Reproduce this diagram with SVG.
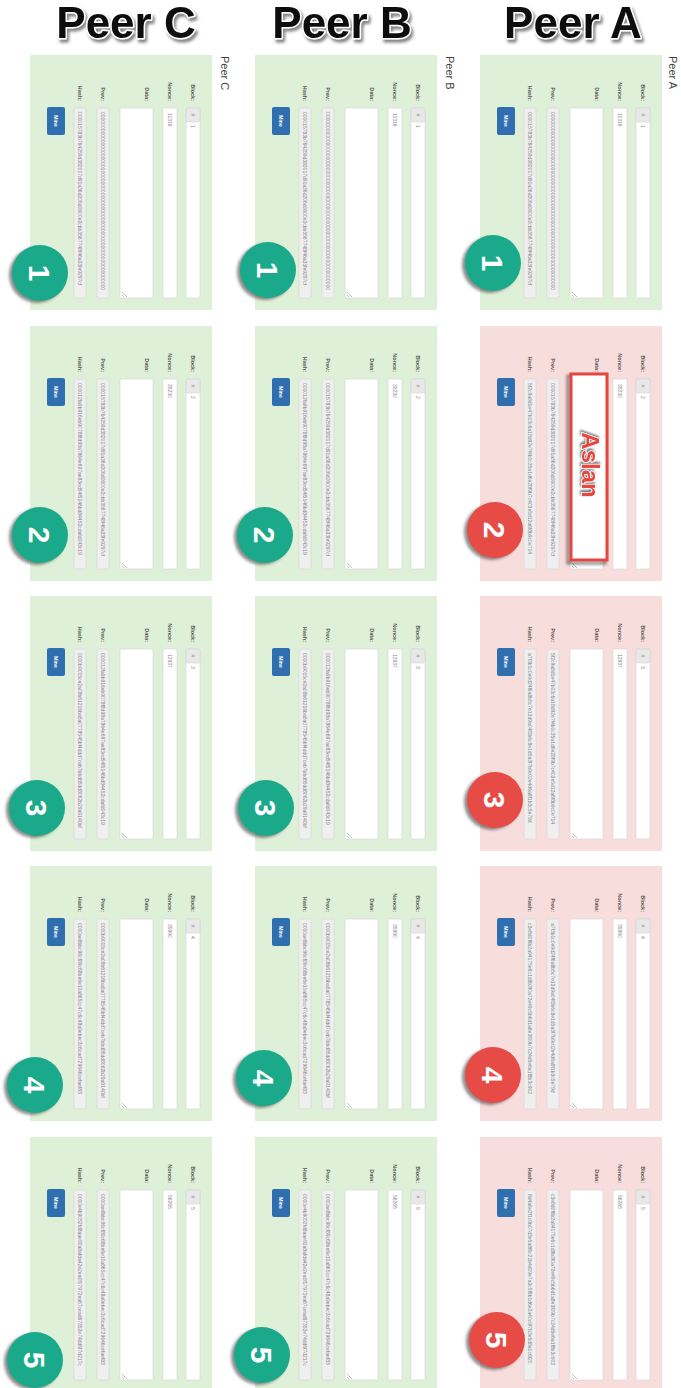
<svg xmlns="http://www.w3.org/2000/svg" xmlns:xlink="http://www.w3.org/1999/xlink" width="681" height="1388" viewBox="0 0 681 1388">
<style>
.bg{fill:#ffffff}
.ok{fill:#dff0d8}
.bad{fill:#f8dddd}
.fld{fill:#ffffff;stroke:#d4d4d4;stroke-width:0.6}
.ro{fill:#efefef;stroke:#d4d4d4;stroke-width:0.6}
.add{fill:#e8e8e8;stroke:#d4d4d4;stroke-width:0.6}
.btn{fill:#2f6fb0}
.lbl{font-family:"Liberation Sans",Arial,sans-serif;font-weight:bold;font-size:5.5px;fill:#555}
.val{font-family:"Liberation Sans",Arial,sans-serif;font-size:5px;fill:#888}
.btxt{font-family:"Liberation Sans",Arial,sans-serif;font-weight:bold;font-size:5px;fill:#ffffff}
.title{font-family:"Liberation Sans",Arial,sans-serif;font-weight:bold;font-size:44px;text-anchor:middle;fill:#111;stroke:#ffffff;stroke-width:3;paint-order:stroke;stroke-linejoin:round}
.plab{font-family:"Liberation Sans",Arial,sans-serif;font-size:11px;fill:#444}
.teal{fill:#1aaa8b}
.red{fill:#e64b45}
.csh{fill:#333;opacity:0.55}
.num{font-family:"Liberation Sans",Arial,sans-serif;font-weight:bold;font-size:30px;fill:#ffffff;text-anchor:middle}
.grip{stroke:#999;stroke-width:0.6}
</style>
<defs>
<filter id="soft" x="-20%" y="-20%" width="140%" height="140%"><feGaussianBlur stdDeviation="1.6"/></filter>
<filter id="tshadow" x="-10%" y="-30%" width="120%" height="160%"><feDropShadow dx="2" dy="3" stdDeviation="1.5" flood-color="#777" flood-opacity="0.9"/></filter>
<filter id="ashadow" x="-30%" y="-10%" width="160%" height="120%"><feDropShadow dx="-2" dy="1" stdDeviation="1" flood-color="#333" flood-opacity="0.7"/></filter>
<g id="tpl">
  <rect class="fld" x="156" y="53" width="14" height="190" rx="1.5"/>
  <rect class="add" x="156" y="53" width="14" height="14" rx="1.5"/>
  <rect class="fld" x="133" y="53" width="14" height="190" rx="1.5"/>
  <rect class="fld" x="90" y="53" width="33" height="190" rx="1.5"/>
  <line class="grip" x1="92" y1="237" x2="97" y2="242"/>
  <line class="grip" x1="92" y1="240" x2="94" y2="242"/>
  <rect class="ro" x="67" y="53" width="12" height="190" rx="1.5"/>
  <rect class="ro" x="44" y="53" width="12" height="190" rx="1.5"/>
  <rect class="btn" x="17" y="52" width="18" height="28" rx="2"/>
  <text class="btxt" transform="translate(24.2,66) rotate(90)" text-anchor="middle">Mine</text>
  <text class="lbl" transform="translate(161,46) rotate(90)" text-anchor="end">Block:</text>
  <text class="lbl" transform="translate(138,46) rotate(90)" text-anchor="end">Nonce:</text>
  <text class="lbl" transform="translate(115,46) rotate(90)" text-anchor="end">Data:</text>
  <text class="lbl" transform="translate(71,46) rotate(90)" text-anchor="end">Prev:</text>
  <text class="lbl" transform="translate(48,46) rotate(90)" text-anchor="end">Hash:</text>
  <text class="val" transform="translate(161.2,60) rotate(90)" text-anchor="middle">#</text>
</g>
</defs>
<rect class="bg" x="0" y="0" width="681" height="1388"/>

<g id="titles">
  <text class="title" x="126" y="38" filter="url(#tshadow)">Peer C</text>
  <text class="title" x="342" y="38" filter="url(#tshadow)">Peer B</text>
  <text class="title" x="573" y="38" filter="url(#tshadow)">Peer A</text>
  <text class="plab" transform="translate(221,56) rotate(90)">Peer C</text>
  <text class="plab" transform="translate(446,56) rotate(90)">Peer B</text>
  <text class="plab" transform="translate(669,56) rotate(90)">Peer A</text>
</g>

<!-- Peer C -->
<g id="peerC-block1" transform="translate(30,55)">
  <rect class="ok" width="182" height="255"/><use xlink:href="#tpl"/>
  <text class="val" transform="translate(161.2,70) rotate(90)">1</text>
  <text class="val" transform="translate(138.2,58) rotate(90)">11316</text>
  <text class="val" transform="translate(71.2,57) rotate(90)">0000000000000000000000000000000000000000000000000000000000000000</text>
  <text class="val" transform="translate(48.2,57) rotate(90)">000015783b764259d382017d91a36d206d0600e2cbb3567748f46a33fe9297cf</text>
</g>
<g id="peerC-block2" transform="translate(30,326)">
  <rect class="ok" width="182" height="255"/><use xlink:href="#tpl"/>
  <text class="val" transform="translate(161.2,70) rotate(90)">2</text>
  <text class="val" transform="translate(138.2,58) rotate(90)">35230</text>
  <text class="val" transform="translate(71.2,57) rotate(90)">000015783b764259d382017d91a36d206d0600e2cbb3567748f46a33fe9297cf</text>
  <text class="val" transform="translate(48.2,57) rotate(90)">000012fa9b916eb9078f8d98a7864e697ae83ed54f5146bd84452cdafd043c19</text>
</g>
<g id="peerC-block3" transform="translate(30,596)">
  <rect class="ok" width="182" height="255"/><use xlink:href="#tpl"/>
  <text class="val" transform="translate(161.2,70) rotate(90)">3</text>
  <text class="val" transform="translate(138.2,58) rotate(90)">12937</text>
  <text class="val" transform="translate(71.2,57) rotate(90)">000012fa9b916eb9078f8d98a7864e697ae83ed54f5146bd84452cdafd043c19</text>
  <text class="val" transform="translate(48.2,57) rotate(90)">0000b9015ce2a08b61216ba5a0778545bf4ddd7ceb7bbd85dd8062b29a9140bf</text>
</g>
<g id="peerC-block4" transform="translate(30,866)">
  <rect class="ok" width="182" height="255"/><use xlink:href="#tpl"/>
  <text class="val" transform="translate(161.2,70) rotate(90)">4</text>
  <text class="val" transform="translate(138.2,58) rotate(90)">35990</text>
  <text class="val" transform="translate(71.2,57) rotate(90)">0000b9015ce2a08b61216ba5a0778545bf4ddd7ceb7bbd85dd8062b29a9140bf</text>
  <text class="val" transform="translate(48.2,57) rotate(90)">0000ae8bbc96cf89c68be6e10a865cc47c6c48a9ebec3c6cad729646cefaef83</text>
</g>
<g id="peerC-block5" transform="translate(30,1137)">
  <rect class="ok" width="182" height="255"/><use xlink:href="#tpl"/>
  <text class="val" transform="translate(161.2,70) rotate(90)">5</text>
  <text class="val" transform="translate(138.2,58) rotate(90)">56265</text>
  <text class="val" transform="translate(71.2,57) rotate(90)">0000ae8bbc96cf89c68be6e10a865cc47c6c48a9ebec3c6cad729646cefaef83</text>
  <text class="val" transform="translate(48.2,57) rotate(90)">0000e4b9052fd8aae92a8afda42e2ea0f17972ea67cead67352e74dd6f7d217c</text>
</g>

<!-- Peer B -->
<g id="peerB-block1" transform="translate(255,55)">
  <rect class="ok" width="182" height="255"/><use xlink:href="#tpl"/>
  <text class="val" transform="translate(161.2,70) rotate(90)">1</text>
  <text class="val" transform="translate(138.2,58) rotate(90)">11316</text>
  <text class="val" transform="translate(71.2,57) rotate(90)">0000000000000000000000000000000000000000000000000000000000000000</text>
  <text class="val" transform="translate(48.2,57) rotate(90)">000015783b764259d382017d91a36d206d0600e2cbb3567748f46a33fe9297cf</text>
</g>
<g id="peerB-block2" transform="translate(255,326)">
  <rect class="ok" width="182" height="255"/><use xlink:href="#tpl"/>
  <text class="val" transform="translate(161.2,70) rotate(90)">2</text>
  <text class="val" transform="translate(138.2,58) rotate(90)">35230</text>
  <text class="val" transform="translate(71.2,57) rotate(90)">000015783b764259d382017d91a36d206d0600e2cbb3567748f46a33fe9297cf</text>
  <text class="val" transform="translate(48.2,57) rotate(90)">000012fa9b916eb9078f8d98a7864e697ae83ed54f5146bd84452cdafd043c19</text>
</g>
<g id="peerB-block3" transform="translate(255,596)">
  <rect class="ok" width="182" height="255"/><use xlink:href="#tpl"/>
  <text class="val" transform="translate(161.2,70) rotate(90)">3</text>
  <text class="val" transform="translate(138.2,58) rotate(90)">12937</text>
  <text class="val" transform="translate(71.2,57) rotate(90)">000012fa9b916eb9078f8d98a7864e697ae83ed54f5146bd84452cdafd043c19</text>
  <text class="val" transform="translate(48.2,57) rotate(90)">0000b9015ce2a08b61216ba5a0778545bf4ddd7ceb7bbd85dd8062b29a9140bf</text>
</g>
<g id="peerB-block4" transform="translate(255,866)">
  <rect class="ok" width="182" height="255"/><use xlink:href="#tpl"/>
  <text class="val" transform="translate(161.2,70) rotate(90)">4</text>
  <text class="val" transform="translate(138.2,58) rotate(90)">35990</text>
  <text class="val" transform="translate(71.2,57) rotate(90)">0000b9015ce2a08b61216ba5a0778545bf4ddd7ceb7bbd85dd8062b29a9140bf</text>
  <text class="val" transform="translate(48.2,57) rotate(90)">0000ae8bbc96cf89c68be6e10a865cc47c6c48a9ebec3c6cad729646cefaef83</text>
</g>
<g id="peerB-block5" transform="translate(255,1137)">
  <rect class="ok" width="182" height="255"/><use xlink:href="#tpl"/>
  <text class="val" transform="translate(161.2,70) rotate(90)">5</text>
  <text class="val" transform="translate(138.2,58) rotate(90)">56265</text>
  <text class="val" transform="translate(71.2,57) rotate(90)">0000ae8bbc96cf89c68be6e10a865cc47c6c48a9ebec3c6cad729646cefaef83</text>
  <text class="val" transform="translate(48.2,57) rotate(90)">0000e4b9052fd8aae92a8afda42e2ea0f17972ea67cead67352e74dd6f7d217c</text>
</g>

<!-- Peer A -->
<g id="peerA-block1" transform="translate(480,55)">
  <rect class="ok" width="182" height="255"/><use xlink:href="#tpl"/>
  <text class="val" transform="translate(161.2,70) rotate(90)">1</text>
  <text class="val" transform="translate(138.2,58) rotate(90)">11316</text>
  <text class="val" transform="translate(71.2,57) rotate(90)">0000000000000000000000000000000000000000000000000000000000000000</text>
  <text class="val" transform="translate(48.2,57) rotate(90)">000015783b764259d382017d91a36d206d0600e2cbb3567748f46a33fe9297cf</text>
</g>
<g id="peerA-block2" transform="translate(480,326)">
  <rect class="bad" width="182" height="255"/><use xlink:href="#tpl"/>
  <text class="val" transform="translate(161.2,70) rotate(90)">2</text>
  <text class="val" transform="translate(138.2,58) rotate(90)">35230</text>
  <text class="val" transform="translate(71.2,57) rotate(90)">000015783b764259d382017d91a36d206d0600e2cbb3567748f46a33fe9297cf</text>
  <text class="val" transform="translate(48.2,57) rotate(90)">5f2c9a8d1e47b03c6a18d92e7f4b0c35a1d6e28f9b7c403e5d12a6f8b9c0e714</text>
</g>
<g id="peerA-block3" transform="translate(480,596)">
  <rect class="bad" width="182" height="255"/><use xlink:href="#tpl"/>
  <text class="val" transform="translate(161.2,70) rotate(90)">3</text>
  <text class="val" transform="translate(138.2,58) rotate(90)">12937</text>
  <text class="val" transform="translate(71.2,57) rotate(90)">5f2c9a8d1e47b03c6a18d92e7f4b0c35a1d6e28f9b7c403e5d12a6f8b9c0e714</text>
  <text class="val" transform="translate(48.2,57) rotate(90)">a7f3b1c0e9d24f6a8b5c7e13d9a04f2b6c8e1d5a3f7b9c02e4d6a8f1b3c5e79d</text>
</g>
<g id="peerA-block4" transform="translate(480,866)">
  <rect class="bad" width="182" height="255"/><use xlink:href="#tpl"/>
  <text class="val" transform="translate(161.2,70) rotate(90)">4</text>
  <text class="val" transform="translate(138.2,58) rotate(90)">35990</text>
  <text class="val" transform="translate(71.2,57) rotate(90)">a7f3b1c0e9d24f6a8b5c7e13d9a04f2b6c8e1d5a3f7b9c02e4d6a8f1b3c5e79d</text>
  <text class="val" transform="translate(48.2,57) rotate(90)">c3e8d0f6b2a94175e6c1d8b3f0a72e49c5b6d1a8e3f09b7c24d5e6a1f8b3c902</text>
</g>
<g id="peerA-block5" transform="translate(480,1137)">
  <rect class="bad" width="182" height="255"/><use xlink:href="#tpl"/>
  <text class="val" transform="translate(161.2,70) rotate(90)">5</text>
  <text class="val" transform="translate(138.2,58) rotate(90)">56265</text>
  <text class="val" transform="translate(71.2,57) rotate(90)">c3e8d0f6b2a94175e6c1d8b3f0a72e49c5b6d1a8e3f09b7c24d5e6a1f8b3c902</text>
  <text class="val" transform="translate(48.2,57) rotate(90)">8d4a6e2f1c9b07d3e5a8f6c21b4d09e7a3c5f8b1d6e2a40c9f7b3e5d8a1c6f20</text>
</g>

<g id="aslan">
  <rect x="568" y="376" width="37" height="187" fill="none" stroke="#333" stroke-width="3" opacity="0.6" filter="url(#soft)"/>
  <rect x="571" y="374" width="36" height="186" fill="#ffffff" stroke="#e5473f" stroke-width="3"/>
  <text transform="translate(582,465) rotate(90)" font-family="Liberation Sans,Arial,sans-serif" font-weight="bold" font-size="24" text-anchor="middle" fill="#e5473f" stroke="#ffffff" stroke-width="1.5" paint-order="stroke" filter="url(#ashadow)">Aslan</text>
</g>

<g id="markers">
  <g id="mC1"><circle class="csh" cx="37" cy="275" r="28" filter="url(#soft)"/><circle class="teal" cx="40" cy="273" r="28"/><text class="num" transform="translate(29,273) rotate(90)">1</text></g>
  <g id="mC2"><circle class="csh" cx="37" cy="537" r="28" filter="url(#soft)"/><circle class="teal" cx="40" cy="535" r="28"/><text class="num" transform="translate(29,535) rotate(90)">2</text></g>
  <g id="mC3"><circle class="csh" cx="34" cy="810" r="28" filter="url(#soft)"/><circle class="teal" cx="37" cy="808" r="28"/><text class="num" transform="translate(26,808) rotate(90)">3</text></g>
  <g id="mC4"><circle class="csh" cx="32" cy="1087" r="28" filter="url(#soft)"/><circle class="teal" cx="35" cy="1085" r="28"/><text class="num" transform="translate(24,1085) rotate(90)">4</text></g>
  <g id="mC5"><circle class="csh" cx="32" cy="1362" r="28" filter="url(#soft)"/><circle class="teal" cx="35" cy="1360" r="28"/><text class="num" transform="translate(24,1360) rotate(90)">5</text></g>

  <g id="mB1"><circle class="csh" cx="265" cy="272" r="28" filter="url(#soft)"/><circle class="teal" cx="268" cy="270" r="28"/><text class="num" transform="translate(257,270) rotate(90)">1</text></g>
  <g id="mB2"><circle class="csh" cx="262" cy="537" r="28" filter="url(#soft)"/><circle class="teal" cx="265" cy="535" r="28"/><text class="num" transform="translate(254,535) rotate(90)">2</text></g>
  <g id="mB3"><circle class="csh" cx="263" cy="810" r="28" filter="url(#soft)"/><circle class="teal" cx="266" cy="808" r="28"/><text class="num" transform="translate(255,808) rotate(90)">3</text></g>
  <g id="mB4"><circle class="csh" cx="261" cy="1080" r="28" filter="url(#soft)"/><circle class="teal" cx="264" cy="1078" r="28"/><text class="num" transform="translate(253,1078) rotate(90)">4</text></g>
  <g id="mB5"><circle class="csh" cx="259" cy="1357" r="28" filter="url(#soft)"/><circle class="teal" cx="262" cy="1355" r="28"/><text class="num" transform="translate(251,1355) rotate(90)">5</text></g>

  <g id="mA1"><circle class="csh" cx="490" cy="265" r="28" filter="url(#soft)"/><circle class="teal" cx="493" cy="263" r="28"/><text class="num" transform="translate(482,263) rotate(90)">1</text></g>
  <g id="mA2"><circle class="csh" cx="492" cy="532" r="28" filter="url(#soft)"/><circle class="red" cx="495" cy="530" r="28"/><text class="num" transform="translate(484,530) rotate(90)">2</text></g>
  <g id="mA3"><circle class="csh" cx="492" cy="802" r="28" filter="url(#soft)"/><circle class="red" cx="495" cy="800" r="28"/><text class="num" transform="translate(484,800) rotate(90)">3</text></g>
  <g id="mA4"><circle class="csh" cx="490" cy="1077" r="28" filter="url(#soft)"/><circle class="red" cx="493" cy="1075" r="28"/><text class="num" transform="translate(482,1075) rotate(90)">4</text></g>
  <g id="mA5"><circle class="csh" cx="494" cy="1342" r="28" filter="url(#soft)"/><circle class="red" cx="497" cy="1340" r="28"/><text class="num" transform="translate(486,1340) rotate(90)">5</text></g>
</g>
</svg>
